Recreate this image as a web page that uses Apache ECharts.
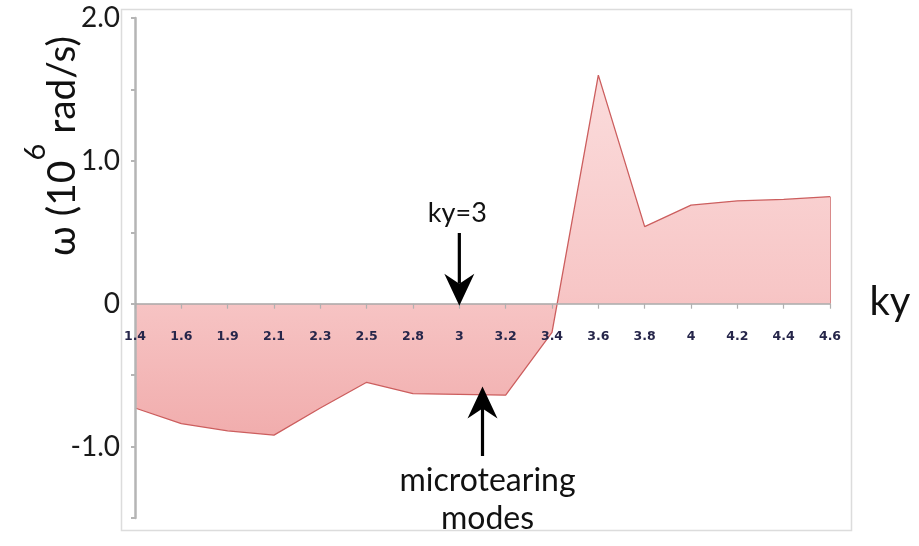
<!DOCTYPE html>
<html>
<head>
<meta charset="utf-8">
<script src="https://cdn.jsdelivr.net/npm/echarts@6/dist/echarts.min.js"></script>
<style>
  html, body { margin: 0; padding: 0; background: #ffffff; }
  #chart { width: 919px; height: 546px; }
</style>
</head>
<body>
<div id="chart"></div>
<script>
// Mode frequency versus binormal wavenumber ky
const categories = ['1.4', '1.6', '1.9', '2.1', '2.3', '2.5', '2.8', '3', '3.2', '3.4', '3.6', '3.8', '4', '4.2', '4.4', '4.6'];
const omega = [-0.73, -0.84, -0.89, -0.92, -0.73, -0.55, -0.63, -0.635, -0.64, -0.2, 1.6, 0.54, 0.69, 0.72, 0.73, 0.75];

// value axis: ticks every 0.5, labels only on whole numbers
const yMin = -1.5;
const yMax = 2.0;
const yStep = 0.5;
const yLabelled = [-1, 0, 1, 2];

const FONT = 'Lato, "Open Sans", "DejaVu Sans", sans-serif';

const GRID = { left: 135, right: 89, top: 18, bottom: 28 };
const plotHeight = 546 - GRID.top - GRID.bottom;
// lift the category axis up to the zero line (labels travel with it)
const zeroOffset = -plotHeight * (0 - yMin) / (yMax - yMin);

const chart = echarts.init(document.getElementById('chart'), null, { renderer: 'canvas' });

const option = {
  backgroundColor: '#ffffff',
  animation: false,
  grid: Object.assign({ containLabel: false, outerBoundsMode: 'none' }, GRID),
  xAxis: {
    type: 'category',
    data: categories,
    boundaryGap: false,
    position: 'bottom',
    offset: zeroOffset,
    z: 5,
    axisLine: { onZero: false, lineStyle: { color: '#a9a9a9', width: 1.5 } },
    axisTick: { show: true, alignWithLabel: true, length: 5, lineStyle: { color: '#b0b0b0', width: 1.2 } },
    axisLabel: {
      margin: 27,
      color: '#26264a',
      fontFamily: '"DejaVu Sans", sans-serif',
      fontWeight: 'bold',
      fontSize: 12.5,
      interval: 0
    },
    splitLine: { show: false }
  },
  yAxis: {
    type: 'value',
    min: yMin,
    max: yMax,
    interval: yStep,
    z: 5,
    axisLine: { show: true, lineStyle: { color: '#b5b5b5', width: 2.5 } },
    axisTick: { show: true, length: 4, lineStyle: { color: '#b5b5b5', width: 2 } },
    axisLabel: {
      margin: 15,
      color: '#1a1a1a',
      fontFamily: FONT,
      fontSize: 28,
      formatter: function (v) {
        const r = Math.round(v * 10) / 10;
        if (yLabelled.indexOf(r) < 0) return '';
        return r === 0 ? '0' : r.toFixed(1);
      }
    },
    splitLine: { show: false }
  },
  series: [{
    type: 'line',
    data: omega,
    symbol: 'none',
    smooth: false,
    z: 2,
    lineStyle: { color: '#cc5e5e', width: 1.3 },
    areaStyle: {
      origin: 0,
      opacity: 1,
      color: new echarts.graphic.LinearGradient(0, 0, 0, 1, [
        { offset: 0, color: '#fbdcdc' },
        { offset: 0.6, color: '#f7c6c6' },
        { offset: 1, color: '#f1adad' }
      ])
    },
    markLine: {
      silent: true,
      symbol: 'none',
      label: { show: false },
      lineStyle: { color: '#d98a8a', width: 1, type: 'solid' },
      data: [[
        { coord: [categories[categories.length - 1], 0] },
        { coord: [categories[categories.length - 1], omega[omega.length - 1]] }
      ]]
    }
  }]
};

chart.setOption(option);

// annotations placed from the axis scales
const px = (cat, val) => chart.convertToPixel({ gridIndex: 0 }, [cat, val]);
const pKy3 = px('3', 0);
const p3 = px('3', -0.58);
const p32 = px('3.2', -0.58);
const mtX = (p3[0] + p32[0]) / 2;
const mtTip = p3[1];

function arrowHead(tipX, tipY, dir) {
  // dir = 1 points down, -1 points up
  const w = 15, h = 32, notch = 22;
  return {
    type: 'polygon',
    shape: {
      points: [
        [tipX, tipY],
        [tipX - w, tipY - dir * h],
        [tipX, tipY - dir * notch],
        [tipX + w, tipY - dir * h]
      ]
    },
    style: { fill: '#000000' },
    z: 100
  };
}

const yTitleParts = ['ω (10', '6', ' rad/s)'];
const titleSize = 39, supSize = 29;
const ctx = document.createElement('canvas').getContext('2d');
ctx.font = titleSize + 'px ' + FONT;
const w1 = ctx.measureText(yTitleParts[0]).width;
const w3 = ctx.measureText(yTitleParts[2]).width;
ctx.font = supSize + 'px ' + FONT;
const w2 = ctx.measureText(yTitleParts[1]).width;
const total = w1 + w2 + w3;
const x0 = -total / 2;

chart.setOption({
  graphic: [
    // plot frame
    {
      type: 'rect',
      shape: { x: 121.5, y: 9.5, width: 730, height: 521 },
      style: { fill: 'none', stroke: '#dcdcdc', lineWidth: 1.5 },
      z: -10, silent: true
    },
    // y axis title, rotated
    {
      type: 'group',
      x: 62, y: 146,
      rotation: Math.PI / 2,
      children: [
        { type: 'text', x: x0, y: 0, style: { text: yTitleParts[0], font: titleSize + 'px ' + FONT, fill: '#111', textAlign: 'left', textVerticalAlign: 'middle' } },
        { type: 'text', x: x0 + w1, y: -26, style: { text: yTitleParts[1], font: supSize + 'px ' + FONT, fill: '#111', textAlign: 'left', textVerticalAlign: 'middle' } },
        { type: 'text', x: x0 + w1 + w2, y: 0, style: { text: yTitleParts[2], font: titleSize + 'px ' + FONT, fill: '#111', textAlign: 'left', textVerticalAlign: 'middle' } }
      ]
    },
    // x axis title
    {
      type: 'text', x: 890, y: 302,
      style: { text: 'ky', font: '40px ' + FONT, fill: '#111', textAlign: 'center', textVerticalAlign: 'middle' }
    },
    // ky=3 marker
    {
      type: 'text', x: pKy3[0] - 2, y: 213,
      style: { text: 'ky=3', font: '27px ' + FONT, fill: '#111', textAlign: 'center', textVerticalAlign: 'middle' }
    },
    {
      type: 'line',
      shape: { x1: pKy3[0], y1: 233, x2: pKy3[0], y2: pKy3[1] - 20 },
      style: { stroke: '#000', lineWidth: 3.2 }, z: 100
    },
    arrowHead(pKy3[0], pKy3[1] + 2, 1),
    // microtearing marker
    {
      type: 'line',
      shape: { x1: mtX, y1: 456, x2: mtX, y2: mtTip + 20 },
      style: { stroke: '#000', lineWidth: 3.2 }, z: 100
    },
    arrowHead(mtX, mtTip, -1),
    {
      type: 'text', x: mtX + 5, y: 481,
      style: { text: 'microtearing', font: '32px ' + FONT, fill: '#111', textAlign: 'center', textVerticalAlign: 'middle' }
    },
    {
      type: 'text', x: mtX + 5, y: 519,
      style: { text: 'modes', font: '32px ' + FONT, fill: '#111', textAlign: 'center', textVerticalAlign: 'middle' }
    }
  ]
});
</script>
</body>
</html>
